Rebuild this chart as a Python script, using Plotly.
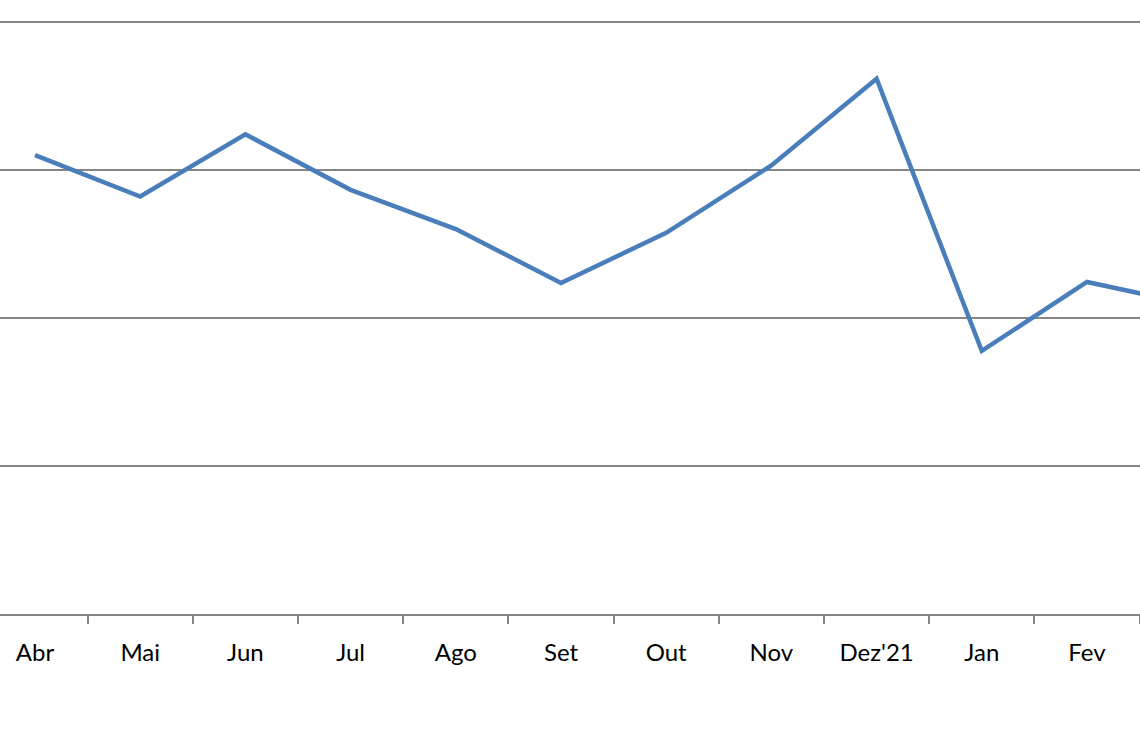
import plotly.graph_objects as go

months = ["Abr", "Mai", "Jun", "Jul", "Ago", "Set", "Out", "Nov", "Dez'21", "Jan", "Fev", "Mar"]
values = [3.10, 2.82, 3.24, 2.865, 2.60, 2.236, 2.575, 3.03, 3.615, 1.777, 2.243, 2.09]

x_idx = list(range(len(months)))

fig = go.Figure()
fig.add_trace(go.Scatter(
    x=x_idx, y=values, mode="lines",
    line=dict(color="#4A7EBB", width=4.5),
    hoverinfo="skip", showlegend=False,
))

fig.update_layout(
    width=1140, height=742,
    margin=dict(l=0, r=0, t=7, b=128),
    paper_bgcolor="white", plot_bgcolor="white",
    font=dict(family="Lato, Carlito, sans-serif", size=24, color="black"),
)
fig.update_xaxes(
    range=[-0.3327, 10.504],
    tickmode="array", tickvals=x_idx[:11], ticktext=months[:11],
    ticks="", showgrid=False, zeroline=False,
    showline=True, linecolor="#868686", linewidth=2,
    ticklabelstandoff=16,
    minor=dict(tickmode="array", tickvals=[i + 0.5 for i in range(11)],
               ticks="outside", ticklen=8, tickwidth=2, tickcolor="#868686",
               showgrid=False),
)
fig.update_yaxes(
    range=[0, 4.1], tickvals=[0, 1, 2, 3, 4], showticklabels=False,
    showgrid=True, gridcolor="#868686", gridwidth=2,
    zeroline=False, showline=False,
)
fig.write_html("out.html", config={"displayModeBar": False},
               post_script="document.body.style.margin='0';")
